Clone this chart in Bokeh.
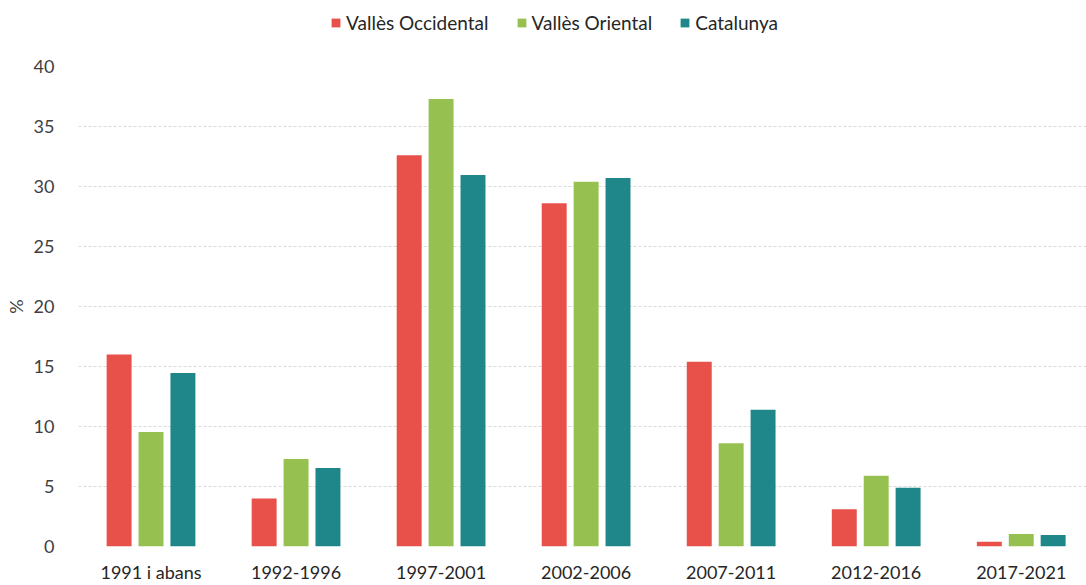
from bokeh.plotting import figure
from bokeh.models import (ColumnDataSource, Range1d, FixedTicker, Legend, LegendItem)
from bokeh.layouts import column
from bokeh.transform import dodge
from bokeh.embed import file_html
from bokeh.resources import INLINE

categories = ["1991 i abans", "1992-1996", "1997-2001", "2002-2006", "2007-2011", "2012-2016", "2017-2021"]
series_names = ["Vallès Occidental", "Vallès Oriental", "Catalunya"]
valles_occidental = [16.0, 4.0, 32.6, 28.6, 15.4, 3.1, 0.4]
valles_oriental = [9.55, 7.3, 37.3, 30.4, 8.6, 5.9, 1.05]
catalunya = [14.45, 6.55, 30.95, 30.7, 11.4, 4.9, 0.95]
colors = ["#E8504A", "#96C150", "#1F8689"]
y_ticks = [0, 5, 10, 15, 20, 25, 30, 35, 40]

FONT = "Lato"
xpos = [i + 0.5 for i in range(len(categories))]
src = ColumnDataSource(dict(x=xpos, vo=valles_occidental, vor=valles_oriental, cat=catalunya))
cols = ["vo", "vor", "cat"]
offsets = [-0.22, 0.0, 0.22]

# ---- legend strip (its bars fall outside its own range, only the legend shows) ----
lg = figure(width=1086, height=48, output_backend="svg", toolbar_location=None,
            x_range=Range1d(-100, -99), y_range=Range1d(0, 1),
            min_border_left=0, min_border_right=0, min_border_top=0, min_border_bottom=0)
lg.axis.visible = False
lg.grid.visible = False
lg.outline_line_color = None
lg_renderers = []
for col, c in zip(cols, colors):
    lg_renderers.append(lg.vbar(x="x", top=col, width=0.172, source=src,
                                fill_color=c, line_color=None))
legend = Legend(items=[LegendItem(label=n, renderers=[r]) for n, r in zip(series_names, lg_renderers)],
                orientation="horizontal", location=(252, 14),
                label_text_font=FONT, label_text_font_size="19px", label_text_color="#262626",
                glyph_width=11, glyph_height=11, label_standoff=5, spacing=27,
                padding=0, margin=0, border_line_color=None, background_fill_alpha=0,
                label_height=20)
lg.add_layout(legend, "center")

# ---- main chart ----
p = figure(width=1086, height=537, output_backend="svg", toolbar_location=None,
           x_range=Range1d(0, 6.95), y_range=Range1d(0, 40),
           min_border_left=78, min_border_right=0, min_border_top=18, min_border_bottom=37)
p.outline_line_color = None
p.background_fill_color = "white"
p.border_fill_color = "white"

for off, col, c in zip(offsets, cols, colors):
    p.vbar(x=dodge("x", off, range=p.x_range), top=col, width=0.172, source=src,
           fill_color=c, line_color=None)

p.xgrid.grid_line_color = None
p.ygrid.grid_line_color = "#D9D9D9"
p.ygrid.grid_line_dash = "3 2"
p.ygrid.grid_line_width = 1

p.yaxis.ticker = FixedTicker(ticks=y_ticks)
p.yaxis.axis_line_color = None
p.yaxis.major_tick_line_color = None
p.yaxis.minor_tick_line_color = None
p.yaxis.major_label_text_font = FONT
p.yaxis.major_label_text_font_size = "18px"
p.yaxis.major_label_text_color = "#404040"
p.yaxis.major_label_standoff = 18
p.yaxis.axis_label = "%"
p.yaxis.axis_label_text_font = FONT
p.yaxis.axis_label_text_font_size = "18px"
p.yaxis.axis_label_text_font_style = "normal"
p.yaxis.axis_label_text_color = "#404040"
p.yaxis.axis_label_standoff = 4

overrides = {}
for xv, lab in zip(xpos, categories):
    overrides[xv] = lab
    overrides[str(xv)] = lab
p.xaxis.ticker = FixedTicker(ticks=xpos)
p.xaxis.major_label_overrides = overrides
p.xaxis.axis_line_color = None
p.xaxis.major_tick_line_color = None
p.xaxis.minor_tick_line_color = None
p.xaxis.major_label_text_font = FONT
p.xaxis.major_label_text_font_size = "18px"
p.xaxis.major_label_text_color = "#262626"
p.xaxis.major_label_standoff = 8

layout = column(lg, p, spacing=0)
open("out.html", "w").write(file_html(layout, INLINE))
